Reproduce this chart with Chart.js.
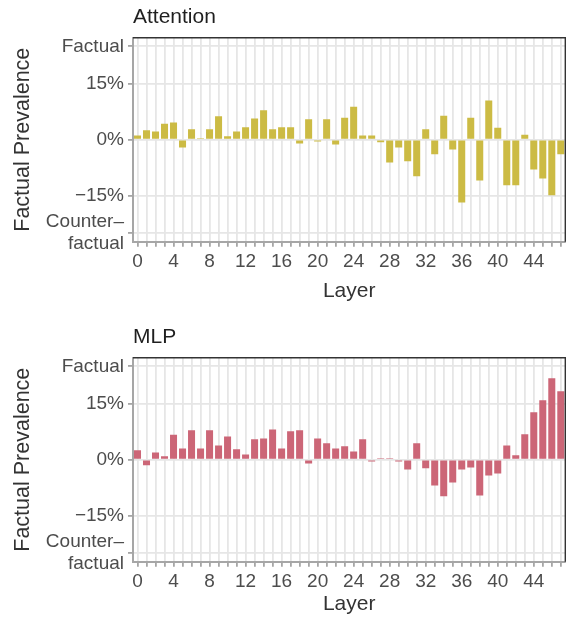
<!DOCTYPE html>
<html>
<head>
<meta charset="utf-8">
<script src="https://cdn.jsdelivr.net/npm/chart.js@4.4.0/dist/chart.umd.min.js"></script>
<style>
  html, body { margin: 0; padding: 0; background: #fff; overflow: hidden; }
  .panel { position: absolute; left: 0; width: 570px; }
  #attnPanel { top: 0; height: 310px; }
  #mlpPanel { top: 320px; height: 297px; }
</style>
</head>
<body>
<div class="panel" id="attnPanel"><canvas id="attnChart"></canvas></div>
<div class="panel" id="mlpPanel"><canvas id="mlpChart"></canvas></div>
<script>
// ─── DATA ───────────────────────────────────────────────
const layers = ['0','1','2','3','4','5','6','7','8','9','10','11','12','13','14','15',
  '16','17','18','19','20','21','22','23','24','25','26','27','28','29','30','31',
  '32','33','34','35','36','37','38','39','40','41','42','43','44','45','46','47'];

const attentionValues = [1.1, 2.5, 2.2, 4.3, 4.6, -2.1, 2.8, 0.4, 2.8, 6.3, 0.9, 2.2,
  3.3, 5.7, 7.9, 2.8, 3.3, 3.3, -1.0, 5.5, -0.5, 5.5, -1.3, 5.9,
  8.8, 1.1, 1.1, -0.7, -6.1, -2.1, -5.8, -9.8, 2.8, -3.9, 6.4, -2.6,
  -16.8, 5.9, -10.9, 10.5, 3.2, -12.2, -12.2, 1.3, -8.0, -10.4, -14.9, -3.9];

const mlpValues = [2.5, -1.5, 1.9, 0.9, 6.7, 3.0, 7.9, 3.0, 7.9, 3.8, 6.2, 2.8,
  1.4, 5.5, 5.7, 8.1, 3.0, 7.6, 7.9, -1.0, 5.7, 4.4, 3.0, 3.6,
  2.2, 5.5, -0.5, 0.4, 0.4, -0.5, -2.6, 4.4, -2.3, -6.9, -9.8, -6.1,
  -2.6, -2.1, -9.6, -4.2, -3.7, 3.8, 1.2, 6.8, 12.7, 15.9, 21.8, 18.3];

const majorTicks = [-25, -15, 0, 15, 25];
const majorLabels = [['Counter\u2013', 'factual'], '\u221215%', '0%', '15%', 'Factual'];
const minorTicks = [-20, -7.5, 7.5, 20];

// ─── STYLE ──────────────────────────────────────────────
const FONT = '"Liberation Sans", Arial, sans-serif';
const GRID = '#E6E6E6';
const AXIS = '#A6A6A6';
const TICK_TEXT = '#4D4D4D';
const TITLE_TEXT = '#333333';

// top/right dark frame + panel title
const panelFrame = {
  id: 'panelFrame',
  afterDraw(chart, args, opts) {
    const { ctx, chartArea: a } = chart;
    ctx.save();
    ctx.strokeStyle = '#333333';
    ctx.lineWidth = 1.4;
    ctx.beginPath();
    ctx.moveTo(a.left, a.top);
    ctx.lineTo(a.right, a.top);
    ctx.lineTo(a.right, a.bottom);
    ctx.stroke();
    ctx.font = '21px ' + FONT;
    ctx.fillStyle = '#1F1F1F';
    ctx.textAlign = 'left';
    ctx.textBaseline = 'alphabetic';
    ctx.fillText(opts.text, a.left, 23.3);
    ctx.restore();
  }
};

function makePanel(canvasId, title, values, color, canvasHeight, layerPad) {
  const canvas = document.getElementById(canvasId);
  if (!canvas) return;

  new Chart(canvas.getContext('2d'), {
    type: 'bar',
    data: {
      labels: layers,
      datasets: [{
        data: values,
        backgroundColor: color,
        borderWidth: 0,
        barPercentage: 0.78,
        categoryPercentage: 1,
      }]
    },
    options: {
      responsive: true,
      maintainAspectRatio: false,
      animation: false,
      layout: { padding: { top: 37.7, right: 4.7, left: 0, bottom: 0 } },
      plugins: {
        legend: { display: false },
        tooltip: { enabled: false },
        panelFrame: { text: title }
      },
      scales: {
        x: {
          offset: true,
          grid: { offset: false, color: GRID, lineWidth: 1.8, tickLength: 5, tickColor: AXIS },
          border: { color: AXIS, width: 2 },
          ticks: {
            autoSkip: false,
            maxRotation: 0,
            padding: 4,
            color: TICK_TEXT,
            font: { family: FONT, size: 19 },
            callback: (v, i) => (i % 4 === 0 ? layers[i] : '')
          },
          title: {
            display: true,
            text: 'Layer',
            color: TITLE_TEXT,
            font: { family: FONT, size: 21 },
            padding: { top: 0, bottom: layerPad }
          },
          afterFit: s => { s.height = canvasHeight - 241.7; }
        },
        y: {
          min: -27.3,
          max: 27.3,
          afterBuildTicks: s => {
            s.ticks = majorTicks.concat(minorTicks).sort((a, b) => a - b).map(v => ({ value: v }));
          },
          grid: {
            color: GRID,
            lineWidth: c => (majorTicks.includes(c.tick && c.tick.value) ? 1.8 : 1.4),
            tickLength: 5,
            tickColor: c => (majorTicks.includes(c.tick && c.tick.value) ? AXIS : 'rgba(0,0,0,0)')
          },
          border: { color: AXIS, width: 2 },
          ticks: {
            padding: 4,
            color: TICK_TEXT,
            font: { family: FONT, size: 19, lineHeight: 1.15 },
            callback: v => {
              const i = majorTicks.indexOf(v);
              return i >= 0 ? majorLabels[i] : '';
            }
          },
          title: {
            display: true,
            text: 'Factual Prevalence',
            color: TITLE_TEXT,
            font: { family: FONT, size: 21.5 },
            padding: { top: 10.5, bottom: 0 }
          },
          afterFit: s => { s.width = 133; }
        }
      }
    },
    plugins: [panelFrame]
  });
}

document.addEventListener('DOMContentLoaded', () => {
  makePanel('attnChart', 'Attention', attentionValues, '#CCBB44', 310, 6);
  makePanel('mlpChart', 'MLP', mlpValues, '#CC6677', 297, 0);
});
</script>
</body>
</html>
